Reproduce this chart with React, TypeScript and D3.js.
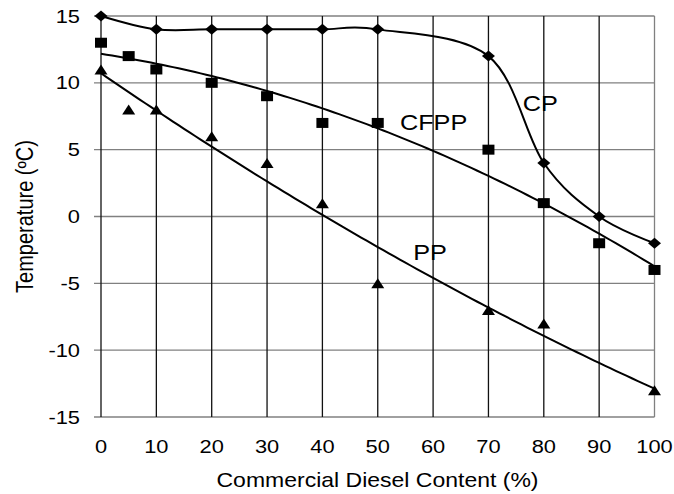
import React from 'react';
import * as d3 from 'd3';

// chart values
const xTicks = [0, 10, 20, 30, 40, 50, 60, 70, 80, 90, 100];
const yTicks = [-15, -10, -5, 0, 5, 10, 15];

const cpX = [0, 10, 20, 30, 40, 50, 70, 80, 90, 100];
const cpY = [15, 14, 14, 14, 14, 14, 12, 4, 0, -2];

const cfppX = [0, 5, 10, 20, 30, 40, 50, 70, 80, 90, 100];
const cfppY = [13, 12, 11, 10, 9, 7, 7, 5, 1, -2, -4];

const ppX = [0, 5, 10, 20, 30, 40, 50, 70, 80, 100];
const ppY = [11, 8, 8, 6, 4, 1, -5, -7, -8, -13];

const curveLabels = ['CP', 'CFPP', 'PP'];
const labelAtX = [76.2, 54, 56.4];
const labelAtY = [7.9, 6.5, -3.25];

const W = 674;
const H = 494;
const margin = { top: 16, right: 19.5, bottom: 77, left: 101 };
const SX = 1.15; // the original is a bit wider than tall, text too
const FONT = 'Arial, "Liberation Sans", sans-serif';

// least squares quadratic trend line (like a spreadsheet polynomial trendline)
function quadFit(xs: number[], ys: number[]) {
  const s = (f: (x: number, y: number) => number) => d3.sum(xs, (x, i) => f(x, ys[i]));
  const m = [
    [xs.length, s(x => x), s(x => x * x)],
    [s(x => x), s(x => x * x), s(x => x ** 3)],
    [s(x => x * x), s(x => x ** 3), s(x => x ** 4)],
  ];
  const v = [s((x, y) => y), s((x, y) => x * y), s((x, y) => x * x * y)];
  // gaussian elimination
  for (let c = 0; c < 3; c++) {
    for (let r = c + 1; r < 3; r++) {
      const f = m[r][c] / m[c][c];
      for (let k = c; k < 3; k++) m[r][k] -= f * m[c][k];
      v[r] -= f * v[c];
    }
  }
  const coef = [0, 0, 0];
  for (let r = 2; r >= 0; r--) {
    let acc = v[r];
    for (let k = r + 1; k < 3; k++) acc -= m[r][k] * coef[k];
    coef[r] = acc / m[r][r];
  }
  return (x: number) => coef[0] + coef[1] * x + coef[2] * x * x;
}

export default function App() {
  const innerW = W - margin.left - margin.right;
  const innerH = H - margin.top - margin.bottom;
  const x = d3.scaleLinear().domain([0, 100]).range([margin.left, margin.left + innerW]);
  const y = d3.scaleLinear().domain([-15, 15]).range([margin.top + innerH, margin.top]);

  const cpLine = d3.line<number>()
    .x((d, i) => x(cpX[i]))
    .y(d => y(d))
    .curve(d3.curveCardinal)(cpY);

  const trend = (xs: number[], ys: number[]) => {
    const f = quadFit(xs, ys);
    const steps = d3.range(0, 100.01, 1);
    return d3.line<number>().x(d => x(d)).y(d => y(f(d)))(steps);
  };

  const diamond = (cx: number, cy: number) =>
    `M${cx},${cy - 5.5}L${cx + 6.5},${cy}L${cx},${cy + 5.5}L${cx - 6.5},${cy}Z`;
  const square = (cx: number, cy: number) =>
    `M${cx - 6},${cy - 5}h12v10h-12Z`;
  const triangle = (cx: number, cy: number) =>
    `M${cx},${cy - 5}L${cx + 6.5},${cy + 5}L${cx - 6.5},${cy + 5}Z`;

  const txt = (px: number, py: number, s: string, size: number, anchor = 'start', key?: string) => (
    <text key={key ?? s + px + py} transform={`translate(${px},${py}) scale(${SX},1)`}
      textAnchor={anchor} fontSize={size} fontFamily={FONT} fill="#000">{s}</text>
  );

  return (
    <svg width={W} height={H} style={{ position: 'absolute', left: 0, top: 0, background: '#fff' }}>
      <rect width={W} height={H} fill="#fff" />
      {/* horizontal grid (grey) */}
      {yTicks.map(t => (
        <line key={'h' + t} x1={margin.left - 7} x2={margin.left + innerW} y1={y(t)} y2={y(t)}
          stroke="#808080" strokeWidth={1.4} />
      ))}
      {/* vertical grid (black) */}
      {xTicks.map(t => (
        <line key={'v' + t} x1={x(t)} x2={x(t)} y1={margin.top} y2={margin.top + innerH}
          stroke={t === 100 ? '#808080' : '#111'} strokeWidth={1.3} />
      ))}
      {yTicks.map(t => txt(80, y(t) + 6.6, String(t), 19, 'end', 'yl' + t))}
      {xTicks.map(t => txt(x(t), 453, String(t), 19, 'middle', 'xl' + t))}
      <text transform={`translate(377.5,486.5) scale(${SX},1)`} textAnchor="middle" fontSize={20}
        fontFamily={FONT}>Commercial Diesel Content (%)</text>
      <text transform={`translate(32.5,${margin.top + innerH / 2}) scale(${SX},1) rotate(-90)`}
        textAnchor="middle" fontSize={20} fontFamily={FONT}>Temperature (ºC)</text>

      <path d={cpLine ?? ''} fill="none" stroke="#000" strokeWidth={2} />
      <path d={trend(cfppX, cfppY) ?? ''} fill="none" stroke="#000" strokeWidth={2} />
      <path d={trend(ppX, ppY) ?? ''} fill="none" stroke="#000" strokeWidth={2} />

      {cpX.map((v, i) => <path key={'cp' + i} d={diamond(x(v), y(cpY[i]))} fill="#000" />)}
      {cfppX.map((v, i) => <path key={'cf' + i} d={square(x(v), y(cfppY[i]))} fill="#000" />)}
      {ppX.map((v, i) => <path key={'pp' + i} d={triangle(x(v), y(ppY[i]))} fill="#000" />)}

      {curveLabels.map((l, i) => txt(x(labelAtX[i]), y(labelAtY[i]), l, 22, 'start', 'lab' + l))}
    </svg>
  );
}
